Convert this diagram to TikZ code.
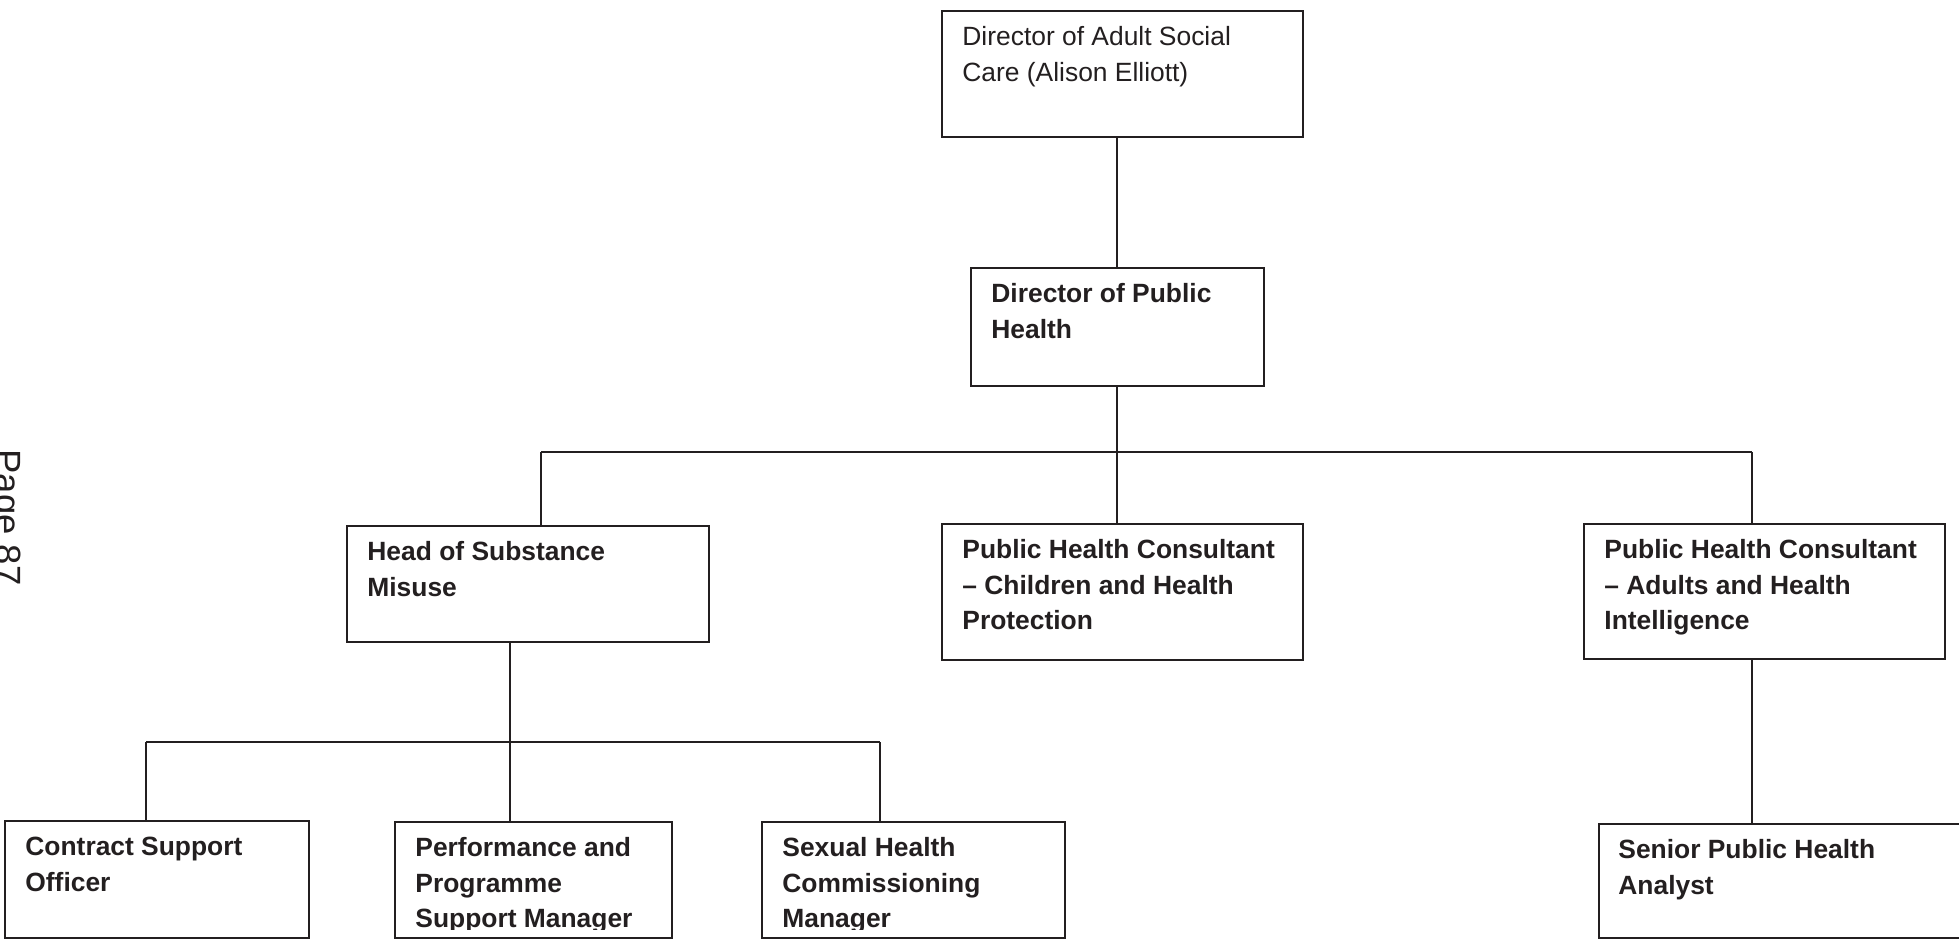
\documentclass[tikz,border=0pt]{standalone}
\usepackage{fontspec}
\setmainfont{Liberation Sans}
\usetikzlibrary{calc}
\definecolor{ink}{RGB}{35,31,32}
\tikzset{
  orgbox/.style={draw=ink, line width=1pt, rectangle, inner sep=0pt, anchor=north west},
  orgtext/.style={anchor=north west, inner sep=0pt, align=left, text=ink,
    font=\fontsize{13.2}{17.75}\selectfont},
  boldtext/.style={orgtext, font=\fontsize{13.2}{17.75}\selectfont\bfseries},
  link/.style={draw=ink, line width=1pt},
}
% strut that fixes the first baseline below the box top
\newcommand{\firstline}{\rule{0pt}{17.75pt}}
\begin{document}
\begin{tikzpicture}[x=0.5pt, y=-0.5pt]
\useasboundingbox (0,0) rectangle (1959,940);
\begin{scope}
\clip (0,0) rectangle (1959,940);

% boxes
\node[orgbox, minimum width=180.5pt, minimum height=63pt] (dasc) at (941,10) {};
\node[orgbox, minimum width=146.5pt, minimum height=59pt] (dph) at (970,267) {};
\node[orgbox, minimum width=181pt, minimum height=58pt] (hsm) at (346,525) {};
\node[orgbox, minimum width=180.5pt, minimum height=68pt] (phcc) at (941,523) {};
\node[orgbox, minimum width=180.5pt, minimum height=67.5pt] (phca) at (1583,523) {};
\node[orgbox, minimum width=152pt, minimum height=58.5pt] (cso) at (4,820) {};
\node[orgbox, minimum width=138.5pt, minimum height=58pt] (ppsm) at (394,821) {};
\node[orgbox, minimum width=151.5pt, minimum height=58pt] (shcm) at (761,821) {};
\node[orgbox, minimum width=191pt, minimum height=57pt] (spha) at (1598,823) {};

% titles
\node[orgtext] (dascT) at ([xshift=10.5pt]dasc.north west) {\firstline Director of Adult Social\\Care (Alison Elliott)};
\node[boldtext] (dphT) at ([xshift=10.5pt]dph.north west) {\firstline Director of Public\\Health};
\node[boldtext] (hsmT) at ([xshift=10.5pt]hsm.north west) {\firstline Head of Substance\\Misuse};
\node[boldtext] (phccT) at ([xshift=10.5pt]phcc.north west) {\firstline Public Health Consultant\\– Children and Health\\Protection};
\node[boldtext] (phcaT) at ([xshift=10.5pt]phca.north west) {\firstline Public Health Consultant\\– Adults and Health\\Intelligence};
\node[boldtext] (csoT) at ([xshift=10.5pt]cso.north west) {\firstline Contract Support\\Officer};
\node[boldtext] (sphaT) at ([xshift=10pt]spha.north west) {\firstline Senior Public Health\\Analyst};
\begin{scope}
\clip (0,0) rectangle (1959,929);
\node[boldtext] (ppsmT) at ([xshift=10.5pt]ppsm.north west) {\firstline Performance and\\Programme\\Support Manager};
\node[boldtext] (shcmT) at ([xshift=10.5pt]shcm.north west) {\firstline Sexual Health\\Commissioning\\Manager};
\end{scope}

% upper tier connectors
\coordinate (trunk) at (1117,452);
\coordinate (busL) at (541,452);
\coordinate (busR) at (1752,452);
\path[link] (trunk |- dasc.south) -- (trunk |- dph.north);
\path[link] (trunk |- dph.south) -- (trunk |- phcc.north);
\path[link] (busL) -- (busR);
\path[link] (busL) -- (busL |- hsm.north);
\path[link] (busR) -- (busR |- phca.north);
\path[link] (busR |- phca.south) -- (busR |- spha.north);

% lower tier connectors
\coordinate (subL) at (146,742);
\coordinate (subM) at (510,742);
\coordinate (subR) at (880,742);
\path[link] (subM |- hsm.south) -- (subM |- ppsm.north);
\path[link] (subL) -- (subR);
\path[link] (subL) -- (subL |- cso.north);
\path[link] (subR) -- (subR |- shcm.north);

% page number along the left edge
\node[rotate=-90, anchor=base west, inner sep=0pt, text=ink,
  font=\fontsize{18.25}{20}\selectfont] (page) at (-4,449) {Page 87};
\end{scope}
\end{tikzpicture}
\end{document}
